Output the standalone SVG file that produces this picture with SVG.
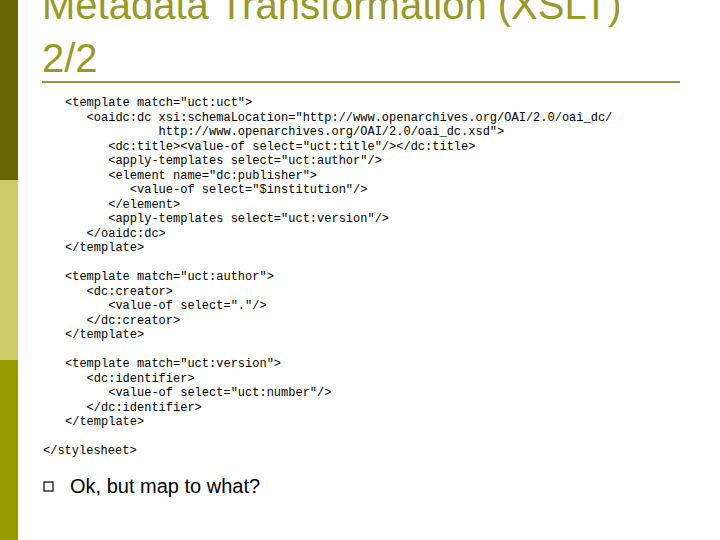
<svg xmlns="http://www.w3.org/2000/svg" width="720" height="540" viewBox="0 0 720 540">
<style>
.c{font-family:"Liberation Mono","Courier New",monospace;font-size:12px;fill:#000;white-space:pre}
.t{font-family:"Liberation Sans",Arial,sans-serif;font-size:40px;fill:#999926}
</style>
<rect width="720" height="540" fill="#fff"/>
<rect x="0" y="0" width="18" height="180" fill="#666600"/>
<rect x="0" y="180" width="18" height="180" fill="#cccc66"/>
<rect x="0" y="360" width="18" height="180" fill="#999900"/>
<text class="t" x="42" y="19">Metadata Transformation (XSLT)</text>
<text class="t" x="42" y="72">2/2</text>
<rect x="42" y="81" width="638" height="2" fill="#999933"/>
<g class="c">
<text class="c" x="65" y="106">&lt;template match="uct:uct"&gt;</text>
<text class="c" x="65" y="121">   &lt;oaidc:dc xsi:schemaLocation="http://www.openarchives.org/OAI/2.0/oai_dc/</text>
<text class="c" x="65" y="135">             http://www.openarchives.org/OAI/2.0/oai_dc.xsd"&gt;</text>
<text class="c" x="65" y="150">      &lt;dc:title&gt;&lt;value-of select="uct:title"/&gt;&lt;/dc:title&gt;</text>
<text class="c" x="65" y="164">      &lt;apply-templates select="uct:author"/&gt;</text>
<text class="c" x="65" y="179">      &lt;element name="dc:publisher"&gt;</text>
<text class="c" x="65" y="193">         &lt;value-of select="$institution"/&gt;</text>
<text class="c" x="65" y="208">      &lt;/element&gt;</text>
<text class="c" x="65" y="222">      &lt;apply-templates select="uct:version"/&gt;</text>
<text class="c" x="65" y="237">   &lt;/oaidc:dc&gt;</text>
<text class="c" x="65" y="251">&lt;/template&gt;</text>
<text class="c" x="65" y="280">&lt;template match="uct:author"&gt;</text>
<text class="c" x="65" y="295">   &lt;dc:creator&gt;</text>
<text class="c" x="65" y="309">      &lt;value-of select="."/&gt;</text>
<text class="c" x="65" y="324">   &lt;/dc:creator&gt;</text>
<text class="c" x="65" y="338">&lt;/template&gt;</text>
<text class="c" x="65" y="367">&lt;template match="uct:version"&gt;</text>
<text class="c" x="65" y="382">   &lt;dc:identifier&gt;</text>
<text class="c" x="65" y="396">      &lt;value-of select="uct:number"/&gt;</text>
<text class="c" x="65" y="411">   &lt;/dc:identifier&gt;</text>
<text class="c" x="65" y="425">&lt;/template&gt;</text>
<text class="c" x="43" y="454">&lt;/stylesheet&gt;</text>
</g>
<rect x="44" y="482" width="9" height="9" fill="none" stroke="#000" stroke-width="1.2"/>
<text x="70" y="493" font-family="Liberation Sans,Arial,sans-serif" font-size="20" fill="#000">Ok, but map to what?</text>
</svg>
